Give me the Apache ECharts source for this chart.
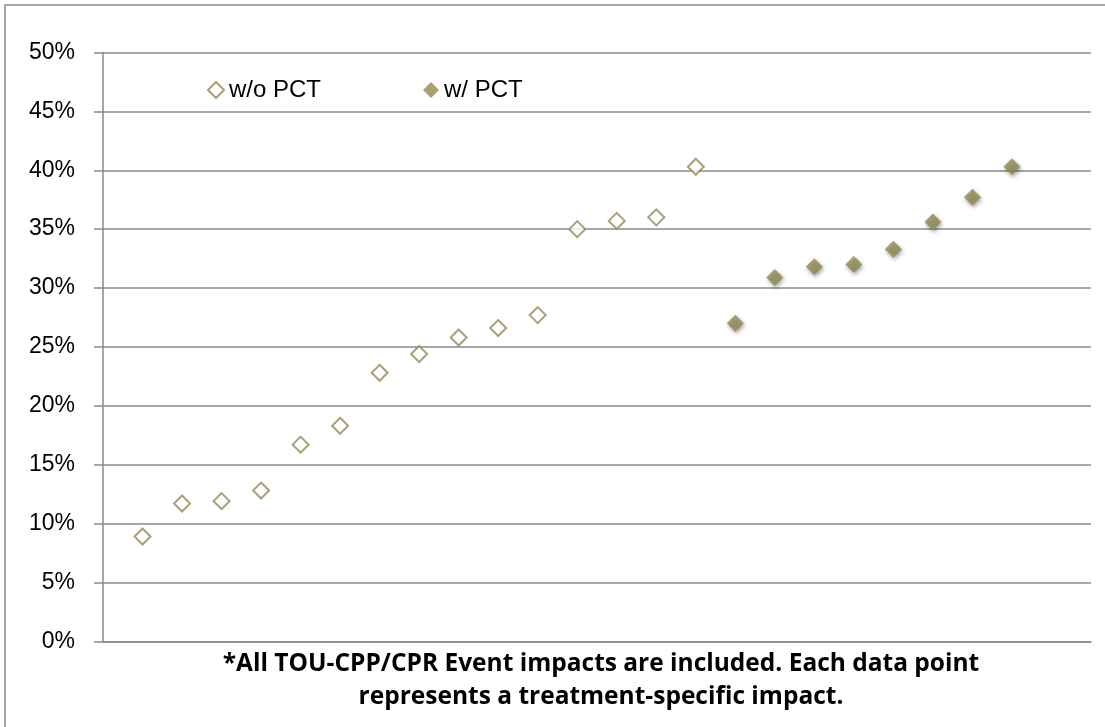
<!DOCTYPE html>
<html>
<head>
<meta charset="utf-8">
<script src="https://cdn.jsdelivr.net/npm/echarts@6/dist/echarts.min.js"></script>
<style>
html,body{margin:0;padding:0;background:#fff;}
#c{width:1105px;height:727px;}
</style>
</head>
<body>
<div id="c"></div>
<script>
// ---- data ----
const seriesNames = ['w/o PCT', 'w/ PCT'];
const xWoPct = [1, 2, 3, 4, 5, 6, 7, 8, 9, 10, 11, 12, 13, 14, 15];
const yWoPct = [8.9, 11.7, 11.9, 12.8, 16.7, 18.3, 22.8, 24.4, 25.8, 26.6, 27.7, 35.0, 35.7, 36.0, 40.3];
const xWPct = [16, 17, 18, 19, 20, 21, 22, 23];
const yWPct = [27.0, 30.9, 31.8, 32.0, 33.3, 35.6, 37.7, 40.3];
const yTickLabels = ['0%', '5%', '10%', '15%', '20%', '25%', '30%', '35%', '40%', '45%', '50%'];
const footnoteLines = ['*All TOU-CPP/CPR Event impacts are included. Each data point', 'represents a treatment-specific impact.'];

const olive = '#948a54';
const gridGray = '#8a8a8a';
const FONT = '"Liberation Sans", Arial, sans-serif';
const FOOT_FONT = '"Open Sans", "Liberation Sans", sans-serif';

const chart = echarts.init(document.getElementById('c'), null, {renderer: 'canvas'});
chart.setOption({
  animation: false,
  backgroundColor: '#fff',
  grid: {left: 103, right: 14, top: 52.5, bottom: 85.7, containLabel: false},
  legend: [
    {
      data: [seriesNames[0]], left: 202, top: 73, itemWidth: 16, itemHeight: 16, itemGap: 6,
      textStyle: {fontFamily: FONT, fontSize: 24, color: '#000', padding: [0, 0, 0, 0]}
    },
    {
      data: [seriesNames[1]], left: 418, top: 73, itemWidth: 16, itemHeight: 16, itemGap: 6,
      textStyle: {fontFamily: FONT, fontSize: 24, color: '#000', padding: [0, 0, 0, 0]}
    }
  ],
  xAxis: {
    type: 'value', min: 0, max: 25,
    axisLine: {show: true, onZero: false, lineStyle: {color: gridGray, width: 1.5}},
    axisTick: {show: false}, axisLabel: {show: false}, splitLine: {show: false}
  },
  yAxis: {
    type: 'value', min: 0, max: 50, interval: 5,
    axisLine: {show: true, lineStyle: {color: gridGray, width: 1.5}},
    axisTick: {show: true, inside: false, length: 9, lineStyle: {color: gridGray, width: 1.5}},
    axisLabel: {
      margin: 28, color: '#000', fontFamily: FONT, fontSize: 23,
      formatter: function (v) { return yTickLabels[Math.round(v / 5)]; }
    },
    splitLine: {show: true, lineStyle: {color: gridGray, width: 1.5}}
  },
  series: [
    {
      name: seriesNames[0], type: 'scatter', symbol: 'diamond', symbolSize: 16,
      data: xWoPct.map((x, i) => [x, yWoPct[i]]),
      itemStyle: {color: '#ffffff', borderColor: olive, borderWidth: 2}
    },
    {
      name: seriesNames[1], type: 'scatter', symbol: 'diamond', symbolSize: 17,
      data: xWPct.map((x, i) => [x, yWPct[i]]),
      itemStyle: {
        color: olive, borderColor: olive, borderWidth: 0,
        shadowBlur: 4, shadowColor: 'rgba(0,0,0,0.45)', shadowOffsetX: 1, shadowOffsetY: 2
      }
    }
  ],
  graphic: [
    {
      type: 'rect', silent: true, z: -1,
      shape: {x: 5, y: 5, width: 1200, height: 800},
      style: {fill: 'none', stroke: gridGray, lineWidth: 1.5}
    },
    {
      type: 'text', x: 601, y: 664,
      style: {
        text: footnoteLines[0], textAlign: 'center', textVerticalAlign: 'middle',
        fontFamily: FOOT_FONT, fontWeight: 'bold', fontSize: 24.5, fill: '#000'
      }
    },
    {
      type: 'text', x: 601, y: 697,
      style: {
        text: footnoteLines[1], textAlign: 'center', textVerticalAlign: 'middle',
        fontFamily: FOOT_FONT, fontWeight: 'bold', fontSize: 24.5, fill: '#000'
      }
    }
  ]
});
</script>
</body>
</html>
